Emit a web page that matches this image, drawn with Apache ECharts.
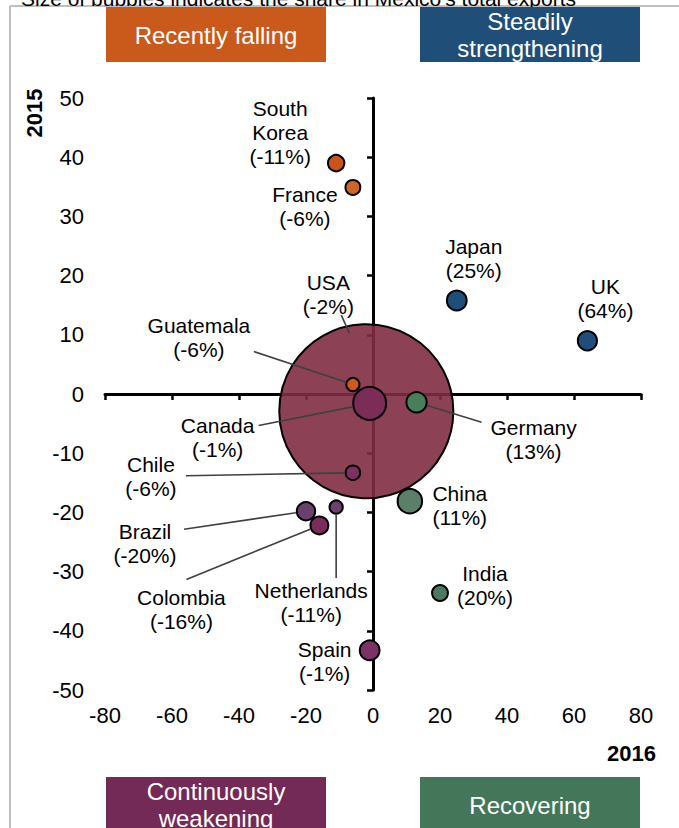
<!DOCTYPE html>
<html>
<head>
<meta charset="utf-8">
<script src="https://cdn.jsdelivr.net/npm/echarts@6/dist/echarts.min.js"></script>
<style>
  html, body { margin: 0; padding: 0; background: #ffffff; }
  #chart { width: 679px; height: 828px; }
</style>
</head>
<body>
<div id="chart"></div>
<script>
// Export growth of Mexico by destination: 2016 (x) vs 2015 (y), in %
// Bubble area = destination's share in Mexico's total exports (%)
const countries   = ['USA', 'South Korea', 'France', 'Guatemala', 'Japan', 'UK', 'Canada', 'Germany',
                     'Chile', 'China', 'Netherlands', 'Brazil', 'Colombia', 'India', 'Spain'];
const growth2016  = [-2, -11, -6, -6, 25, 64, -1, 13, -6, 11, -11, -20, -16, 20, -1];
const growth2015  = [-2.9, 39.0, 34.9, 1.6, 15.8, 9.0, -1.6, -1.4, -13.3, -18.1, -19.1, -19.8, -22.2, -33.6, -43.3];
const exportShare = [81.0, 0.72, 0.59, 0.47, 1.05, 0.98, 2.9, 1.1, 0.56, 1.6, 0.47, 0.9, 0.85, 0.67, 1.05];

const xRange = { min: -80, max: 80, step: 20 };
const yRange = { min: -50, max: 50, step: 10 };
const xAxisTitle = '2016';
const yAxisTitle = '2015';
const chartNote = "Size of bubbles indicates the share in Mexico's total exports";
const quadrantNames = ['Recently falling', 'Steadily\nstrengthening', 'Continuously\nweakening', 'Recovering'];

// ---- styling ----
const FONT = "'Liberation Sans', Arial, sans-serif";
const RADIUS_PER_SQRT_SHARE = 9.67;
const bubbleRadius = share => RADIUS_PER_SQRT_SHARE * Math.sqrt(share);

const bubbleColor = {
  'USA': 'rgba(128,44,66,0.9)',
  'South Korea': '#C8561A', 'France': '#D0652A', 'Guatemala': '#CB5B1E',
  'Japan': '#1F4E79', 'UK': '#1F4E79',
  'Germany': '#4A7D5A', 'China': '#5B8069', 'India': '#4A7B62',
  'Canada': '#7B2C57', 'Chile': '#7C3164', 'Netherlands': '#6E4070',
  'Brazil': '#6B406D', 'Colombia': '#7A2C5A', 'Spain': '#7B3266'
};

// names that wrap onto two lines in their label
const labelWrap = { 'South Korea': 'South\nKorea' };

// label centre relative to bubble centre, px
const labelOffset = {
  'USA': [-38, -117], 'South Korea': [-56, -31], 'France': [-48, 19], 'Guatemala': [-154, -47],
  'Japan': [17, -42], 'UK': [18, -42], 'Canada': [-152, 34], 'Germany': [117, 37],
  'Chile': [-202, 4], 'China': [50, 4], 'Netherlands': [-25, 95], 'Brazil': [-161, 32],
  'Colombia': [-138, 84], 'India': [45, -7], 'Spain': [-45, 11]
};

// leader lines: start point near the label; end at the bubble rim unless given
const leaderLine = {
  'USA': { from: [-25, -96], to: [-17, -78] },
  'Guatemala': { from: [-99, -33] },
  'Canada': { from: [-111, 22] },
  'Germany': { from: [65, 20] },
  'Chile': { from: [-167, 3] },
  'Brazil': { from: [-122, 18] },
  'Colombia': { from: [-133, 54] },
  'Netherlands': { from: [0, 71] }
};

const quadrantColor = ['#C95A1B', '#1F4E79', '#742A56', '#44775A'];

const bubbles = countries.map((name, i) => ({
  name: name,
  value: [growth2016[i], growth2015[i], exportShare[i]],
  itemStyle: { color: bubbleColor[name] },
  label: { offset: labelOffset[name] }
}));

function quadrantBox(i, left, top) {
  return {
    type: 'group', left: left, top: top,
    children: [
      { type: 'rect', shape: { x: 0, y: 0, width: 220, height: 55 }, style: { fill: quadrantColor[i] } },
      { type: 'text', x: 110, y: 28,
        style: { text: quadrantNames[i], fill: '#ffffff', font: '24px ' + FONT,
                 align: 'center', verticalAlign: 'middle', lineHeight: 27 } }
    ]
  };
}

const chart = echarts.init(document.getElementById('chart'), null, { renderer: 'svg' });

const axisText = { color: '#000000', fontSize: 22, fontFamily: FONT };

chart.setOption({
  animation: false,
  backgroundColor: '#ffffff',
  grid: { left: 105, right: 38, top: 98, bottom: 138, containLabel: false, outerBoundsMode: 'none' },
  xAxis: [
    { type: 'value', min: xRange.min, max: xRange.max, interval: xRange.step, position: 'bottom',
      axisLine: { show: false, onZero: false }, axisTick: { show: false }, splitLine: { show: false },
      axisLabel: Object.assign({ margin: 14, showMinLabel: true, showMaxLabel: true, hideOverlap: false }, axisText) },
    { type: 'value', min: xRange.min, max: xRange.max, interval: xRange.step, position: 'bottom',
      axisLine: { show: true, onZero: true, lineStyle: { color: '#000000', width: 3 } },
      axisTick: { show: true, inside: false, length: 6, lineStyle: { color: '#000000', width: 2.5 } },
      axisLabel: { show: false }, splitLine: { show: false } }
  ],
  yAxis: [
    { type: 'value', min: yRange.min, max: yRange.max, interval: yRange.step, position: 'left',
      axisLine: { show: false, onZero: false }, axisTick: { show: false }, splitLine: { show: false },
      axisLabel: Object.assign({ margin: 21, showMinLabel: true, showMaxLabel: true, hideOverlap: false }, axisText) },
    { type: 'value', min: yRange.min, max: yRange.max, interval: yRange.step, position: 'left',
      axisLine: { show: true, onZero: true, lineStyle: { color: '#000000', width: 3 } },
      axisTick: { show: true, inside: false, length: 6, lineStyle: { color: '#000000', width: 2.5 } },
      axisLabel: { show: false }, splitLine: { show: false } }
  ],
  graphic: [
    { type: 'line', shape: { x1: 10, y1: 6, x2: 679, y2: 6 }, style: { stroke: '#BFBFBF', lineWidth: 2 } },
    { type: 'line', shape: { x1: 10, y1: 6, x2: 10, y2: 828 }, style: { stroke: '#BFBFBF', lineWidth: 2 } },
    { type: 'text', x: 21, y: -2,
      style: { text: chartNote, fill: '#000000', font: '21px ' + FONT, verticalAlign: 'middle' } },
    quadrantBox(0, 106, 7),
    quadrantBox(1, 420, 7),
    quadrantBox(2, 106, 777),
    quadrantBox(3, 420, 777),
    { type: 'text', x: 34, y: 113, rotation: Math.PI / 2,
      style: { text: yAxisTitle, fill: '#000000', font: 'bold 22px ' + FONT, align: 'center', verticalAlign: 'middle' } },
    { type: 'text', x: 656, y: 753,
      style: { text: xAxisTitle, fill: '#000000', font: 'bold 22px ' + FONT, align: 'right', verticalAlign: 'middle' } }
  ],
  series: [
    {
      type: 'scatter',
      xAxisIndex: 0, yAxisIndex: 0,
      z: 3,
      data: bubbles,
      symbol: 'circle',
      symbolSize: v => 2 * bubbleRadius(v[2]),
      itemStyle: { borderColor: '#000000', borderWidth: 2, opacity: 1 },
      label: {
        show: true, position: 'inside',
        formatter: p => (labelWrap[p.name] || p.name) + '\n(' + p.value[0] + '%)',
        color: '#000000', fontSize: 21, fontFamily: FONT, lineHeight: 24,
        textBorderWidth: 0, align: 'center', verticalAlign: 'middle'
      },
      emphasis: { disabled: true }
    },
    {
      type: 'custom',
      xAxisIndex: 0, yAxisIndex: 0,
      z: 5, silent: true,
      data: countries.map((name, i) => [growth2016[i], growth2015[i], exportShare[i]]),
      renderItem: (params, api) => {
        const g = leaderLine[countries[params.dataIndex]];
        if (!g) return { type: 'group', children: [] };
        const c = api.coord([api.value(0), api.value(1)]);
        const sx = c[0] + g.from[0], sy = c[1] + g.from[1];
        let ex, ey;
        if (g.to) {
          ex = c[0] + g.to[0]; ey = c[1] + g.to[1];
        } else {
          const r = bubbleRadius(api.value(2)) + 1;
          const dx = sx - c[0], dy = sy - c[1], d = Math.hypot(dx, dy);
          ex = c[0] + dx / d * r; ey = c[1] + dy / d * r;
        }
        return { type: 'line', shape: { x1: sx, y1: sy, x2: ex, y2: ey },
                 style: { stroke: '#404040', lineWidth: 1.6 } };
      }
    }
  ]
});
</script>
</body>
</html>
